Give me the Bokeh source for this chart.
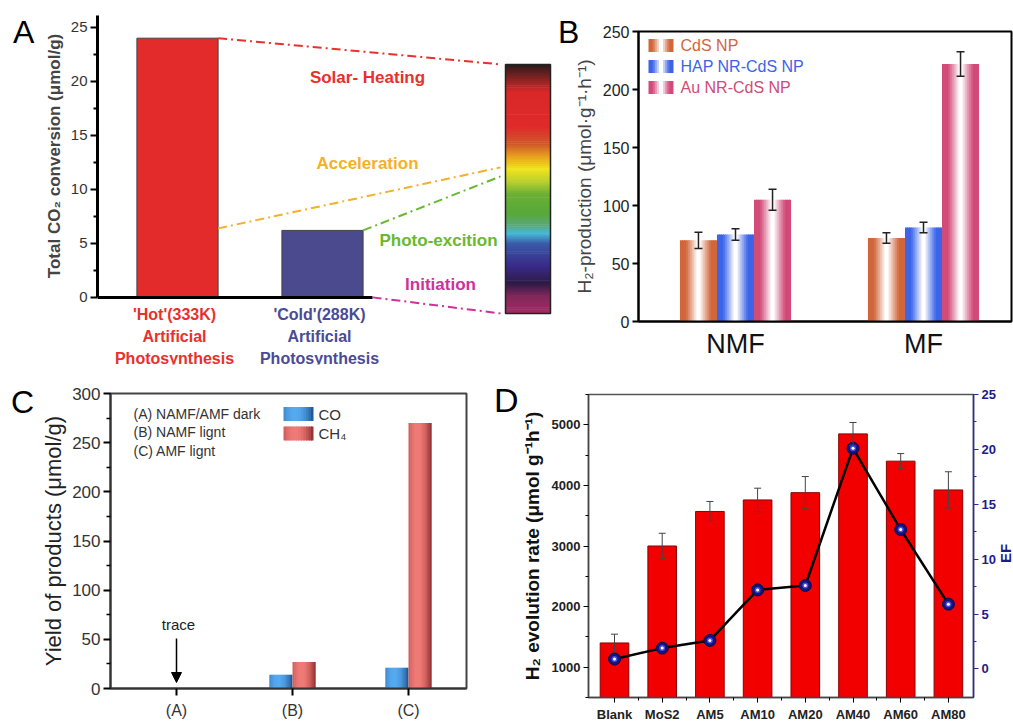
import numpy as np
from bokeh.plotting import figure
from bokeh.layouts import column, row
from bokeh.models import (Range1d, LinearAxis, FixedTicker, Label, Whisker, Div,
                          ColumnDataSource, TeeHead, Arrow, NormalHead)
from bokeh.core.properties import value
from bokeh.embed import file_html
from bokeh.resources import INLINE

FONT = "Liberation Sans"

# ---------------- data ----------------
# Panel A
a_categories = ["'Hot'(333K)", "'Cold'(288K)"]
a_values = [24.0, 6.2]
a_stages = ["Solar- Heating", "Acceleration", "Photo-excition", "Initiation"]

# Panel B
b_groups = ["NMF", "MF"]
b_series = ["CdS NP", "HAP NR-CdS NP", "Au NR-CdS NP"]
b_cds = [70, 72]
b_hap = [75, 81]
b_au = [105, 222]
b_cds_err = [7, 4.5]
b_hap_err = [5, 4.5]
b_au_err = [9, 10.5]

# Panel C
c_categories = ["(A)", "(B)", "(C)"]
c_conditions = ["(A) NAMF/AMF dark", "(B) NAMF lignt", "(C) AMF lignt"]
c_products = ["CO", "CH\u2084"]
c_co = [0, 14, 21]
c_ch4 = [0, 27, 270]

# Panel D
d_categories = ["Blank", "MoS2", "AM5", "AM10", "AM20", "AM40", "AM60", "AM80"]
d_rate = [1400, 3000, 3570, 3760, 3880, 4850, 4400, 3925]
d_err = [145, 210, 165, 194, 266, 188, 125, 300]
d_ef = [0.9, 1.9, 2.6, 7.2, 7.6, 20.1, 12.7, 5.9]


# ---------------- helpers ----------------
def hex2rgb(h):
    h = h.lstrip("#")
    return tuple(int(h[i:i + 2], 16) for i in (0, 2, 4))


def rgb2hex(c):
    return "#%02x%02x%02x" % tuple(int(round(max(0, min(255, v)))) for v in c)


def mix(c1, c2, t):
    a, b = hex2rgb(c1), hex2rgb(c2)
    return rgb2hex([a[i] + (b[i] - a[i]) * t for i in range(3)])


def strips(centers, tops, bottoms, width, color_at, n=16):
    L, R, T, B, C = [], [], [], [], []
    sw = width / n
    for c, t, b in zip(centers, tops, bottoms):
        for i in range(n):
            L.append(c - width / 2 + i * sw)
            R.append(c - width / 2 + (i + 1) * sw + (0.4 * sw if i < n - 1 else 0))
            T.append(t)
            B.append(b)
            C.append(color_at((i + 0.5) / n))
    return ColumnDataSource(dict(left=L, right=R, top=T, bottom=B, color=C))


def white_center(base):
    def f(t):
        k = (abs(t - 0.5) * 2 - 0.08) / 0.6
        k = max(0.0, min(1.0, k))
        return mix("#ffffff", base, k ** 0.9)
    return f


def cylinder(dark, light):
    def f(t):
        k = 1 - ((t - 0.38) / 0.62) ** 2
        k = max(0.0, min(1.0, k))
        return mix(dark, light, k)
    return f


def clean(p):
    p.grid.visible = False
    p.background_fill_color = "white"
    p.border_fill_color = "white"
    p.frame_align = False


def abs_text(text, left, top, size, weight="normal", color="black", rotate=False):
    st = {"position": "absolute", "left": f"{left}px", "top": f"{top}px",
          "font-family": FONT, "font-size": f"{size}px", "font-weight": weight,
          "line-height": "1", "color": color, "white-space": "nowrap",
          "margin": "0", "padding": "0", "z-index": "10"}
    if rotate:
        st["transform"] = "rotate(-90deg)"
    return Div(text=text, styles=st)


# ================= Panel A =================
AX, AY = 145.0, 10.8          # px per unit
a_x = [1, 2]
a_w = 0.56
pA = figure(width=556, height=366, output_backend="svg", toolbar_location=None,
            x_range=Range1d(1 - 80 / AX, 1 - 80 / AX + 457 / AX),
            y_range=Range1d(26.1 - 349 / AY, 26.1),
            x_axis_location=None, min_border_left=97, min_border_right=2,
            min_border_top=15, min_border_bottom=2)
clean(pA)
pA.outline_line_color = None
pA.vbar(x=a_x, top=a_values, width=a_w, bottom=0,
        fill_color=["#e32b2b", "#4b4a8e"], line_color="#444444", line_width=1)
x_end = a_x[-1] + a_w / 2 + 0.065
pA.segment(x0=[pA.x_range.start], y0=[0], x1=[x_end], y1=[0], line_width=3, color="black")

ya = pA.yaxis[0]
ya.ticker = FixedTicker(ticks=[0, 5, 10, 15, 20, 25], minor_ticks=[2.5, 7.5, 12.5, 17.5, 22.5])
ya.bounds = (0, 26.1)
ya.axis_line_width = 3
ya.major_tick_line_width = 2
ya.minor_tick_line_width = 2
ya.major_tick_out = 7
ya.major_tick_in = 0
ya.minor_tick_out = 4
ya.minor_tick_in = 0
ya.major_label_text_font = FONT
ya.major_label_text_font_size = "15px"
ya.major_label_text_color = "#333333"
ya.major_label_standoff = 3
ya.axis_label = "\u2003\u2003\u2003\u2003Total CO\u2082 conversion (\u03bcmol/g)"
ya.axis_label_text_font = FONT
ya.axis_label_text_font_style = "bold"
ya.axis_label_text_font_size = "17px"
ya.axis_label_standoff = 4

# category labels under bars
cat_cols = ["#e8302c", "#4b4a96"]
tx, ty, tt, tc = [], [], [], []
for i, cat in enumerate(a_categories):
    for j, line in enumerate([cat, "Artificial", "Photosynthesis"]):
        tx.append(a_x[i] - 3 / AX)
        ty.append(-(17 + 22 * j) / AY)
        tt.append(line)
        tc.append(cat_cols[i])
pA.text(x=tx, y=ty, text=tt, text_color=tc, text_font=value(FONT), text_font_style="bold",
        text_font_size="16px", text_align="center", text_baseline="middle")

# colour bar (spectrum)
cb_left = 1 + (505 - 177) / AX
cb_right = 1 + (550 - 177) / AX
cb_top = (297 - 64) / AY
cb_bot = (297 - 313) / AY
stops = [(0.00, "#2a1a1a"), (0.05, "#7a2222"), (0.11, "#d82828"), (0.25, "#e02a2a"),
         (0.32, "#d0582a"), (0.37, "#e8a020"), (0.42, "#f0e41a"), (0.47, "#bcd030"),
         (0.52, "#6cb034"), (0.60, "#58a83a"), (0.645, "#5aa878"), (0.68, "#48b8d8"),
         (0.72, "#3a5aa8"), (0.81, "#382a88"), (0.88, "#2e1a46"), (0.93, "#80285a"),
         (1.00, "#a42a62")]


def spectrum(f):
    for k in range(len(stops) - 1):
        f0, c0 = stops[k]
        f1, c1 = stops[k + 1]
        if f0 <= f <= f1:
            return mix(c0, c1, (f - f0) / (f1 - f0))
    return stops[-1][1]


ncb = 120
hs = (cb_top - cb_bot) / ncb
pA.quad(left=[cb_left] * ncb, right=[cb_right] * ncb,
        top=[cb_top - i * hs for i in range(ncb)],
        bottom=[cb_top - (i + 1) * hs - 0.3 * hs for i in range(ncb)],
        fill_color=[spectrum((i + 0.5) / ncb) for i in range(ncb)], line_color=None)
pA.quad(left=[cb_left], right=[cb_right], top=[cb_top], bottom=[cb_bot],
        fill_color=None, line_color="#222222", line_width=1.5)

# dash-dot connectors
hot_r = a_x[0] + a_w / 2
cold_r = a_x[1] + a_w / 2
ce = cb_left - 5 / AX
pA.segment(x0=[hot_r, hot_r, cold_r, x_end],
           y0=[a_values[0], (297 - 228) / AY, a_values[1], 0],
           x1=[ce, ce, ce, ce],
           y1=[(297 - 64) / AY, (297 - 167) / AY, (297 - 176) / AY, (297 - 313) / AY],
           line_color=["#e8302c", "#f5b02a", "#6ab82e", "#d0309a"],
           line_width=2, line_dash="9 4 2 4")
st_x = [1 + (367 - 177) / AX, 1 + (367 - 177) / AX, 1 + (438 - 177) / AX, 1 + (440 - 177) / AX]
st_y = [(297 - 77) / AY, (297 - 163) / AY, (297 - 240) / AY, (297 - 284) / AY]
pA.text(x=st_x, y=st_y, text=a_stages,
        text_color=["#e8302c", "#f5b02a", "#6ab82e", "#d0309a"],
        text_font=value(FONT), text_font_style="bold", text_font_size="17px",
        text_align="center", text_baseline="middle")

# ================= Panel B =================
BX = 188.0
BY = 290 / 250.0
pB = figure(width=457, height=366, output_backend="svg", toolbar_location=None,
            x_range=Range1d(1 - 97 / BX, 1 - 97 / BX + 373 / BX), y_range=Range1d(0, 250),
            min_border_left=82, min_border_right=2, min_border_top=31, min_border_bottom=45)
clean(pB)
pB.outline_line_color = "black"
pB.outline_line_width = 2
bw = 0.197
b_x = [1, 2]
b_colors = ["#d2663a", "#3c64e6", "#d24a78"]
b_vals = [b_cds, b_hap, b_au]
b_errs = [b_cds_err, b_hap_err, b_au_err]
for k in range(3):
    xs = [x + (k - 1) * bw for x in b_x]
    src = strips(xs, b_vals[k], [0, 0], bw, white_center(b_colors[k]), n=18)
    pB.quad(left="left", right="right", top="top", bottom="bottom", fill_color="color",
            line_color=None, source=src)
    es = ColumnDataSource(dict(x=xs, up=[v + e for v, e in zip(b_vals[k], b_errs[k])],
                               lo=[v - e for v, e in zip(b_vals[k], b_errs[k])]))
    pB.add_layout(Whisker(base="x", upper="up", lower="lo", source=es, line_color="#222222",
                          line_width=1.5, level="annotation",
                          upper_head=TeeHead(size=8, line_color="#222222", line_width=1.5),
                          lower_head=TeeHead(size=8, line_color="#222222", line_width=1.5)))
    # legend
    lx0 = 1 + (648 - 735) / BX
    lx1 = 1 + (673 - 735) / BX
    ly = (321 - (45 + 21 * k)) / BY
    lsrc = strips([(lx0 + lx1) / 2], [ly + 6.5 / BY], [ly - 6.5 / BY], lx1 - lx0,
                  white_center(b_colors[k]), n=12)
    pB.quad(left="left", right="right", top="top", bottom="bottom", fill_color="color",
            line_color=None, source=lsrc)
    pB.add_layout(Label(x=1 + (680 - 735) / BX, y=ly, text=b_series[k], text_color=b_colors[k],
                        text_font=FONT, text_font_size="16px", text_baseline="middle"))

yb = pB.yaxis[0]
yb.ticker = FixedTicker(ticks=[0, 50, 100, 150, 200, 250])
yb.axis_line_width = 2
yb.major_tick_line_width = 2
yb.major_tick_out = 6
yb.major_tick_in = 0
yb.minor_tick_line_color = None
yb.major_label_text_font = FONT
yb.major_label_text_font_size = "16px"
yb.major_label_text_color = "#222222"
yb.major_label_standoff = 3
yb.axis_label = "H\u2082-production (\u03bcmol\u00b7g\u207b\u00b9\u00b7h\u207b\u00b9)"
yb.axis_label_text_font = FONT
yb.axis_label_text_font_style = "normal"
yb.axis_label_text_font_size = "19px"
yb.axis_label_standoff = 5
xb = pB.xaxis[0]
xb.ticker = FixedTicker(ticks=b_x)
xb.major_label_overrides = {1: b_groups[0], 2: b_groups[1]}
xb.major_tick_line_color = None
xb.minor_tick_line_color = None
xb.axis_line_width = 2
xb.major_label_text_font = FONT
xb.major_label_text_font_size = "27px"
xb.major_label_text_color = "#111111"
xb.major_label_standoff = 1

# ================= Panel C =================
CX = 116.0
CY = 295 / 300.0
pC = figure(width=498, height=358, output_backend="svg", toolbar_location=None,
            x_range=Range1d(1 - 66 / CX, 1 - 66 / CX + 356 / CX), y_range=Range1d(0, 300),
            min_border_left=110, min_border_right=32, min_border_top=27, min_border_bottom=36)
clean(pC)
pC.outline_line_color = "#444444"
pC.outline_line_width = 2
c_x = [1, 2, 3]
cw = 0.2
blue_f = cylinder("#1c4f8c", "#55aaf0")
red_f = cylinder("#8a2a2a", "#f07a76")
s1 = strips([x - cw / 2 for x in c_x], c_co, [0, 0, 0], cw, blue_f, n=14)
s2 = strips([x + cw / 2 for x in c_x], c_ch4, [0, 0, 0], cw, red_f, n=14)
for s in (s1, s2):
    pC.quad(left="left", right="right", top="top", bottom="bottom", fill_color="color",
            line_color=None, source=s)
# legend
for k, txt in enumerate(c_conditions):
    pC.add_layout(Label(x=1 + (133 - 176) / CX, y=(688 - (413 + 18.5 * k)) / CY, text=txt,
                        text_font=FONT, text_font_size="14px", text_color="#333333",
                        text_baseline="middle"))
sw0 = 1 + (283 - 176) / CX
sw1 = 1 + (313 - 176) / CX
for k, (nm, f) in enumerate(zip(c_products, [blue_f, red_f])):
    cy = (688 - (413.5 + 19.5 * k)) / CY
    ls = strips([(sw0 + sw1) / 2], [cy + 7 / CY], [cy - 7 / CY], sw1 - sw0, f, n=12)
    pC.quad(left="left", right="right", top="top", bottom="bottom", fill_color="color",
            line_color=None, source=ls)
    pC.add_layout(Label(x=1 + (318 - 176) / CX, y=cy, text=nm, text_font=FONT,
                        text_font_size="15px", text_color="#333333", text_baseline="middle"))
pC.add_layout(Label(x=c_x[0] + 2 / CX, y=(688 - 624) / CY, text="trace", text_font=FONT,
                    text_font_size="15px", text_color="#222222", text_align="center",
                    text_baseline="middle"))
pC.add_layout(Arrow(end=NormalHead(size=10, fill_color="black", line_color="black"),
                    x_start=c_x[0], y_start=(688 - 638) / CY, x_end=c_x[0], y_end=(688 - 682) / CY,
                    line_width=1.5, line_color="black"))
yc = pC.yaxis[0]
yc.ticker = FixedTicker(ticks=[0, 50, 100, 150, 200, 250, 300],
                        minor_ticks=[25, 75, 125, 175, 225, 275])
yc.axis_line_width = 2
yc.axis_line_color = "#333333"
yc.major_tick_line_width = 2
yc.minor_tick_line_width = 1.5
yc.major_tick_out = 7
yc.major_tick_in = 0
yc.minor_tick_out = 4
yc.minor_tick_in = 0
yc.major_label_text_font = FONT
yc.major_label_text_font_size = "17px"
yc.major_label_text_color = "#333333"
yc.major_label_standoff = 3
yc.axis_label = "Yield of products (\u03bcmol/g)"
yc.axis_label_text_font = FONT
yc.axis_label_text_font_style = "normal"
yc.axis_label_text_font_size = "22px"
yc.axis_label_text_color = "#222222"
yc.axis_label_standoff = 3
xc = pC.xaxis[0]
xc.ticker = FixedTicker(ticks=c_x)
xc.major_label_overrides = {i + 1: c for i, c in enumerate(c_categories)}
xc.axis_line_width = 2
xc.axis_line_color = "#333333"
xc.major_tick_line_width = 2
xc.major_tick_out = 7
xc.major_tick_in = 0
xc.minor_tick_line_color = None
xc.major_label_text_font = FONT
xc.major_label_text_font_size = "16px"
xc.major_label_text_color = "#333333"
xc.major_label_standoff = 6

# ================= Panel D =================
DX = 47.7
DY = 304 / 5000.0
d_x = list(range(len(d_categories)))
pD = figure(width=515, height=358, output_backend="svg", toolbar_location=None,
            x_range=Range1d(-26 / DX, -26 / DX + 385 / DX), y_range=Range1d(500, 5500),
            min_border_left=90, min_border_right=40, min_border_top=28, min_border_bottom=26)
clean(pD)
pD.outline_line_color = "#555555"
pD.outline_line_width = 1.5
pD.extra_y_ranges = {"ef": Range1d(-2.6, 25)}
pD.vbar(x=d_x, top=d_rate, bottom=500, width=0.6, fill_color="#f20000",
        line_color="#8a0000", line_width=1)
des = ColumnDataSource(dict(x=d_x, up=[r + e for r, e in zip(d_rate, d_err)],
                            lo=[r - e for r, e in zip(d_rate, d_err)]))
pD.add_layout(Whisker(base="x", upper="up", lower="lo", source=des, line_color="#444444",
                      line_width=1, level="annotation",
                      upper_head=TeeHead(size=7, line_color="#444444", line_width=1),
                      lower_head=TeeHead(size=7, line_color="#444444", line_width=1)))
pD.line(x=d_x, y=d_ef, y_range_name="ef", line_color="black", line_width=2.5)
pD.scatter(x=d_x, y=d_ef, y_range_name="ef", size=12, fill_color="#14147a", line_color="#0a0a50")
pD.scatter(x=d_x, y=d_ef, y_range_name="ef", size=6, fill_color="#4a4ae0", line_color=None)
pD.scatter(x=d_x, y=d_ef, y_range_name="ef", size=3, fill_color="white", line_color=None)

yd = pD.yaxis[0]
yd.ticker = FixedTicker(ticks=[1000, 2000, 3000, 4000, 5000],
                        minor_ticks=[500, 1500, 2500, 3500, 4500, 5500])
yd.axis_line_width = 1.5
yd.axis_line_color = "#444444"
yd.major_tick_out = 5
yd.major_tick_in = 0
yd.minor_tick_out = 3
yd.minor_tick_in = 0
yd.major_label_text_font = FONT
yd.major_label_text_font_style = "bold"
yd.major_label_text_font_size = "13px"
yd.major_label_text_color = "#222222"
yd.major_label_standoff = 3
yd.axis_label = "H\u2082 evolution rate (\u03bcmol g\u207b\u00b9h\u207b\u00b9)"
yd.axis_label_text_font = FONT
yd.axis_label_text_font_style = "bold"
yd.axis_label_text_font_size = "19px"
yd.axis_label_text_color = "#111111"
yd.axis_label_standoff = 6
xd = pD.xaxis[0]
xd.ticker = FixedTicker(ticks=d_x, minor_ticks=[x + 0.5 for x in d_x[:-1]])
xd.major_label_overrides = {i: c for i, c in enumerate(d_categories)}
xd.axis_line_width = 1.5
xd.axis_line_color = "#444444"
xd.major_tick_out = 5
xd.major_tick_in = 0
xd.minor_tick_out = 3
xd.minor_tick_in = 0
xd.major_label_text_font = FONT
xd.major_label_text_font_style = "bold"
xd.major_label_text_font_size = "13px"
xd.major_label_text_color = "#222222"
xd.major_label_standoff = 4
ax_ef = LinearAxis(y_range_name="ef",
                   ticker=FixedTicker(ticks=[0, 5, 10, 15, 20, 25],
                                      minor_ticks=[2.5, 7.5, 12.5, 17.5, 22.5]))
ax_ef.axis_line_color = "#2a2aa0"
ax_ef.axis_line_width = 1.5
ax_ef.major_tick_line_color = "#2a2aa0"
ax_ef.minor_tick_line_color = "#2a2aa0"
ax_ef.major_tick_out = 5
ax_ef.major_tick_in = 0
ax_ef.minor_tick_out = 3
ax_ef.minor_tick_in = 0
ax_ef.major_label_text_font = FONT
ax_ef.major_label_text_font_style = "bold"
ax_ef.major_label_text_font_size = "13px"
ax_ef.major_label_text_color = "#1c1c8c"
ax_ef.major_label_standoff = 3
pD.add_layout(ax_ef, "right")

# panel letters and the EF axis title (placed in page pixels)
extras = [
    abs_text("A", 13, 16, 32),
    abs_text("B", 558, 16, 32),
    abs_text("C", 11, 386, 32),
    abs_text("D", 494, 383, 34),
    abs_text("EF", 996, 546, 15, weight="bold", color="#1c1c8c", rotate=True),
]

layout = column(row(pA, pB), row(pC, pD), *extras)
open("out.html", "w").write(file_html(layout, INLINE))
